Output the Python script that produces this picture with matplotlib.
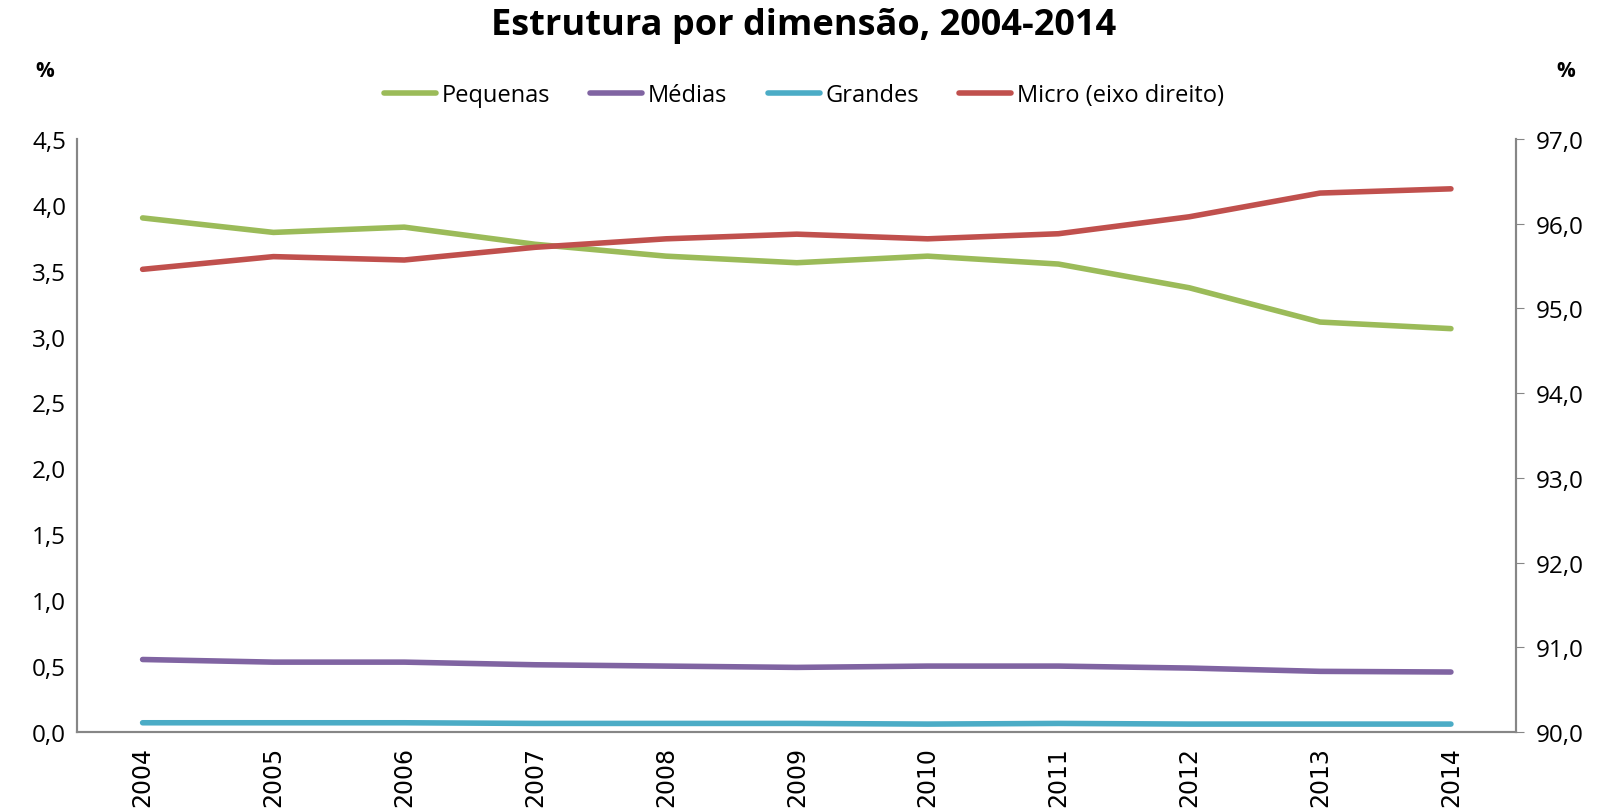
import matplotlib.pyplot as plt
from matplotlib.ticker import FuncFormatter

years = ['2004', '2005', '2006', '2007', '2008', '2009', '2010', '2011', '2012', '2013', '2014']
pequenas = [3.90, 3.79, 3.83, 3.70, 3.61, 3.56, 3.61, 3.55, 3.37, 3.11, 3.06]
medias = [0.55, 0.53, 0.53, 0.51, 0.50, 0.49, 0.50, 0.50, 0.485, 0.46, 0.455]
grandes = [0.07, 0.07, 0.07, 0.065, 0.065, 0.065, 0.06, 0.065, 0.06, 0.06, 0.06]
micro = [95.46, 95.61, 95.57, 95.72, 95.82, 95.875, 95.82, 95.88, 96.08, 96.36, 96.41]

plt.rcParams['font.family'] = ['Open Sans', 'DejaVu Sans']

GREEN = '#9BBB59'
PURPLE = '#8064A2'
CYAN = '#4BACC6'
RED = '#C0504D'
GRAY = '#868686'
LW = 4.0

fig = plt.figure(figsize=(16.08, 8.12), dpi=100)
ax = fig.add_axes([0.048, 0.0973, 0.895, 0.7305])
ax2 = ax.twinx()

x = list(range(len(years)))
l1, = ax.plot(x, pequenas, color=GREEN, lw=LW, solid_capstyle='round', label='Pequenas')
l2, = ax.plot(x, medias, color=PURPLE, lw=LW, solid_capstyle='round', label='Médias')
l3, = ax.plot(x, grandes, color=CYAN, lw=LW, solid_capstyle='round', label='Grandes')
l4, = ax2.plot(x, micro, color=RED, lw=LW, solid_capstyle='round', label='Micro (eixo direito)')

ax.set_xlim(-0.5, len(years) - 0.5)
ax.set_ylim(0, 4.5)
ax.set_yticks([0, 0.5, 1, 1.5, 2, 2.5, 3, 3.5, 4, 4.5])
ax2.set_ylim(90, 97)
ax2.set_yticks(range(90, 98))

comma = FuncFormatter(lambda v, p: f'{v:.1f}'.replace('.', ','))
ax.yaxis.set_major_formatter(comma)
ax2.yaxis.set_major_formatter(comma)

ax.set_xticks(x)
ax.set_xticklabels(years, rotation=90, fontsize=17, family='DejaVu Sans')
ax.tick_params(axis='x', length=0, pad=10)
ax.tick_params(axis='y', length=0, labelsize=17.5, pad=8)
ax2.tick_params(axis='y', length=6, color=GRAY, labelsize=17.5, pad=8)

for a in (ax, ax2):
    a.spines['top'].set_visible(False)
    for s in ('left', 'right', 'bottom'):
        a.spines[s].set_color(GRAY)
        a.spines[s].set_linewidth(1.5)

fig.text(0.5, 0.968, 'Estrutura por dimensão, 2004-2014', ha='center', va='center',
         fontsize=26, fontweight='bold')
fig.text(0.028, 0.912, '%', ha='center', va='center', fontsize=15, fontweight='bold')
fig.text(0.974, 0.912, '%', ha='center', va='center', fontsize=15, fontweight='bold')

fig.legend(handles=[l1, l2, l3, l4], loc='center', bbox_to_anchor=(0.5, 0.882), ncol=4,
           frameon=False, fontsize=17, handlelength=2.2, handletextpad=0.25, columnspacing=1.7)

fig.savefig('out.png', dpi=100)
